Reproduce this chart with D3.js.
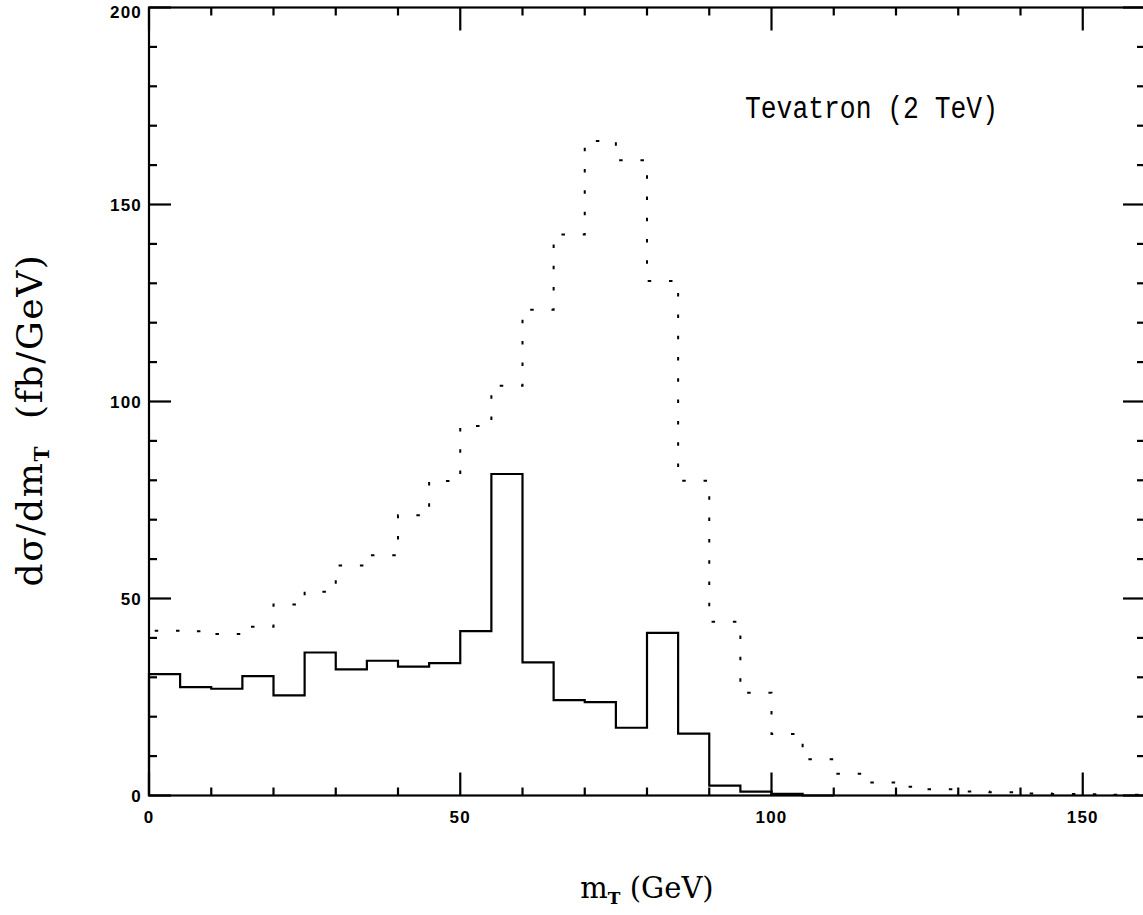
<!DOCTYPE html>
<html>
<head>
<meta charset="utf-8">
<script src="https://cdn.jsdelivr.net/npm/d3@7"></script>
<style>
  html, body { margin: 0; padding: 0; background: #fff; }
  svg { display: block; }
</style>
</head>
<body>
<div id="chart"></div>
<script>
// ---- data (bins of 5 GeV, value = lower bin edge) ----
const binWidth = 5;
const solidBinStarts = [0,5,10,15,20,25,30,35,40,45,50,55,60,65,70,75,80,85,90,95,100,105];
const solidValues    = [30.8,27.5,27.1,30.3,25.4,36.3,32.0,34.2,32.7,33.6,41.7,81.6,33.8,24.2,23.7,17.2,41.3,15.7,2.5,1.0,0.4,0];
const dottedBinStarts = [0,5,10,15,20,25,30,35,40,45,50,55,60,65,70,75,80,85,90,95,100,105,110,115,120,125,130,135,140,145,150,155];
const dottedValues    = [41.8,41.7,41.0,42.8,48.5,51.7,58.4,61.0,71.1,79.8,93.8,104.0,123.3,142.4,166.1,161.2,130.6,79.9,44.1,26.1,15.6,9.2,5.5,3.3,2.2,1.6,1.0,0.8,0.5,0.4,0.3,0.2];
const xMajorTicks = [0,50,100,150];
const yMajorTicks = [0,50,100,150,200];
const titleText = "Tevatron (2 TeV)";

// ---- layout ----
const W = 1143, H = 915;
const mLeft = 149, mRight = 1145, mTop = 7.5, mBottom = 795.5;

const svg = d3.select("#chart").append("svg").attr("width", W).attr("height", H);

const x = d3.scaleLinear().domain([0,160]).range([mLeft, mRight]);
const y = d3.scaleLinear().domain([0,200]).range([mBottom, mTop]);

const xMinor = d3.range(0, 161, 10);
const yMinor = d3.range(0, 201, 10);

const g = svg.append("g").attr("stroke", "#000").attr("stroke-width", 2.2).attr("fill", "none");

// frame
g.append("rect").attr("x", x(0)).attr("y", y(200)).attr("width", x(160)-x(0)).attr("height", y(0)-y(200));

// ticks
const majLenX = 23, minLen = 8, majLenY = 22;
xMinor.forEach(v => {
  const L = xMajorTicks.includes(v) ? majLenX : minLen;
  g.append("line").attr("x1", x(v)).attr("x2", x(v)).attr("y1", y(0)).attr("y2", y(0)-L);
  g.append("line").attr("x1", x(v)).attr("x2", x(v)).attr("y1", y(200)).attr("y2", y(200)+L);
});
yMinor.forEach(v => {
  const L = yMajorTicks.includes(v) ? majLenY : minLen;
  g.append("line").attr("x1", x(0)).attr("x2", x(0)+L).attr("y1", y(v)).attr("y2", y(v));
  g.append("line").attr("x1", x(160)).attr("x2", x(160)-L).attr("y1", y(v)).attr("y2", y(v));
});

// tick labels
const tickFont = "'Liberation Sans', Arial, sans-serif";
svg.append("g").selectAll("text").data(xMajorTicks).join("text")
  .attr("x", d => x(d)).attr("y", 823)
  .attr("text-anchor", "middle")
  .attr("font-family", tickFont).attr("font-weight", "bold").attr("font-size", 17)
  .attr("letter-spacing", 1.2)
  .text(d => d);
svg.append("g").selectAll("text").data(yMajorTicks).join("text")
  .attr("x", 142).attr("y", d => Math.max(y(d), 12))
  .attr("dy", "0.36em")
  .attr("text-anchor", "end")
  .attr("font-family", tickFont).attr("font-weight", "bold").attr("font-size", 17)
  .attr("letter-spacing", 1.2)
  .text(d => d);

// histograms
function stepPoints(starts, vals) {
  const pts = [[starts[0], 0]];
  starts.forEach((s, i) => pts.push([s, vals[i]]));
  const last = starts.length - 1;
  pts.push([starts[last] + binWidth, vals[last]]);
  return pts;
}
const line = d3.line().x(d => x(d[0])).y(d => y(d[1])).curve(d3.curveStepAfter);

svg.append("path")
  .attr("d", line(stepPoints(dottedBinStarts, dottedValues)))
  .attr("fill", "none").attr("stroke", "#000").attr("stroke-width", 2)
  .attr("stroke-dasharray", "3.5 17.8");

svg.append("path")
  .attr("d", line(stepPoints(solidBinStarts, solidValues)))
  .attr("fill", "none").attr("stroke", "#000").attr("stroke-width", 2.2);

// title
svg.append("text")
  .attr("x", 745).attr("y", 118)
  .attr("font-family", "'Liberation Mono', 'Courier New', monospace").attr("font-size", 31)
  .attr("textLength", 253).attr("lengthAdjust", "spacingAndGlyphs")
  .text(titleText);

// x label
const xl = svg.append("text")
  .attr("x", (x(0)+x(160))/2).attr("y", 898)
  .attr("text-anchor", "middle")
  .attr("font-family", "'DejaVu Serif', serif").attr("font-size", 29);
xl.append("tspan").text("m");
xl.append("tspan").attr("dy", 6).attr("font-size", 17).attr("font-weight", "bold").text("T");
xl.append("tspan").attr("dy", -6).text(" (GeV)");

// y label
const yl = svg.append("text")
  .attr("transform", `translate(42, 420) rotate(-90)`)
  .attr("text-anchor", "middle")
  .attr("font-family", "'DejaVu Serif', serif").attr("font-size", 36)
  .attr("letter-spacing", 1.6);
yl.append("tspan").text("dσ/dm");
yl.append("tspan").attr("dy", 7).attr("font-size", 20).attr("font-weight", "bold").text("T");
yl.append("tspan").attr("dy", -7).text("\u00a0\u00a0(fb/GeV)");
</script>
</body>
</html>
